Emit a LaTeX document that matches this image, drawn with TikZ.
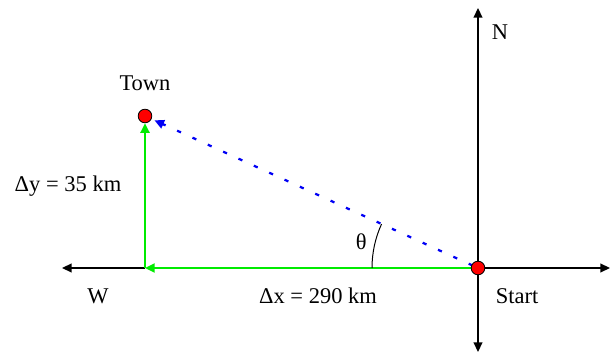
\documentclass[tikz,border=0pt]{standalone}
\usepackage{fontspec}
\setmainfont{Liberation Serif}
\usetikzlibrary{arrows.meta,positioning}

\definecolor{vecgreen}{RGB}{0,235,0}
\definecolor{vecblue}{RGB}{0,0,245}

\begin{document}
\begin{tikzpicture}[
    >={Triangle[length=2.4mm,width=2.2mm]},
    lbl/.style={font=\fontsize{16}{19}\selectfont, inner sep=1pt},
    axis/.style={line width=0.9pt, ->},
    comp/.style={vecgreen, line width=2pt, ->},
    result/.style={vecblue, line width=1.6pt, dash pattern=on 3pt off 9pt, ->},
    dot/.style={circle, draw=black, fill=red, line width=0.6pt, minimum size=3.4mm, inner sep=0pt},
]
\useasboundingbox (0,0) rectangle (15.325,8.9);

\coordinate (start) at (11.95,2.2);
\coordinate (town) at (3.625,6.0);
\coordinate (corner) at (3.625,2.2);
\coordinate (north) at (11.95,8.7);
\coordinate (south) at (11.95,0.1);
\coordinate (east) at (15.25,2.2);
\coordinate (west) at (1.55,2.2);

% compass axes
\draw[axis] (start) -- (north);
\draw[axis] (start) -- (south);
\draw[axis] (start) -- (east);
\draw[axis] (corner) -- (west);

% components and displacement
\draw[comp] (start) -- (corner);
\draw[comp, shorten >=1.8mm] (corner) -- (town);
\draw[result, shorten >=2.6mm, shorten <=1.5mm] (start) -- (town);

% angle
\draw[line width=0.7pt] (start) ++(180:2.65) arc[start angle=180, end angle=155.5, radius=2.65];

\node[dot] (startdot) at (start) {};
\node[dot] (towndot) at (town) {};

% labels
\node[lbl, above=4mm of towndot] (townlbl) {Town};
\node[lbl] (startlbl) at (12.93,1.5) {Start};
\node[lbl] (nlbl) at (12.5,8.1) {N};
\node[lbl] (wlbl) at (2.45,1.5) {W};
\node[lbl] (dxlbl) at (7.95,1.5) {Δx = 290 km};
\node[lbl] (dylbl) at (1.7,4.25) {Δy = 35 km};
\node[lbl] (thlbl) at (9.03,2.85) {θ};
\end{tikzpicture}
\end{document}
